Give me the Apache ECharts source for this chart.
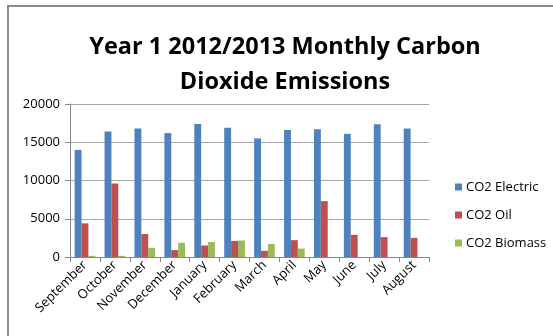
<!DOCTYPE html>
<html>
<head>
<meta charset="utf-8">
<script src="https://cdn.jsdelivr.net/npm/echarts@6/dist/echarts.min.js"></script>
<style>
  html, body { margin: 0; padding: 0; background: #fff; }
  #frame { position: absolute; left: 7px; top: 5px; width: 546px; height: 331px;
           border-top: 2px solid #8c8c8c; border-left: 2px solid #8c8c8c; box-sizing: border-box; }
  #chart { position: absolute; left: 0; top: 0; width: 553px; height: 336px; }
</style>
</head>
<body>
<div id="frame"></div>
<div id="chart"></div>
<script>
// Monthly CO2 emissions, September 2012 to August 2013
const months = ['September', 'October', 'November', 'December', 'January', 'February',
                'March', 'April', 'May', 'June', 'July', 'August'];
const co2Electric = [14000, 16400, 16800, 16200, 17400, 16900, 15500, 16600, 16700, 16100, 17350, 16800];
const co2Oil      = [4400, 9600, 3000, 900, 1500, 2100, 800, 2200, 7300, 2900, 2600, 2500];
const co2Biomass  = [150, 150, 1200, 1850, 1950, 2150, 1700, 1100, 0, 0, 0, 0];
const yTicks = [0, 5000, 10000, 15000, 20000];

const font = "'Open Sans', 'Liberation Sans', sans-serif";
const chart = echarts.init(document.getElementById('chart'), null, { renderer: 'canvas' });

const seriesDefs = [
  { name: 'CO2 Electric', data: co2Electric, color: '#4F81BD' },
  { name: 'CO2 Oil',      data: co2Oil,      color: '#C0504D' },
  { name: 'CO2 Biomass',  data: co2Biomass,  color: '#9BBB59' }
];

chart.setOption({
  animation: false,
  backgroundColor: 'transparent',
  title: {
    text: 'Year 1 2012/2013 Monthly Carbon\nDioxide Emissions',
    left: 280, top: 25, textAlign: 'center',
    textStyle: { fontFamily: font, fontWeight: 'bold', fontSize: 23.5, lineHeight: 35, color: '#000' }
  },
  legend: {
    orient: 'vertical', left: 450, top: 173, itemGap: 10,
    itemWidth: 7, itemHeight: 7, icon: 'rect',
    textStyle: { fontFamily: font, fontSize: 13, lineHeight: 18, color: '#000', padding: [0, 0, 0, -1] },
    data: seriesDefs.map(s => s.name)
  },
  grid: { left: 70, right: 124, top: 104, bottom: 79, containLabel: false },
  xAxis: {
    type: 'category', data: months,
    axisLine: { lineStyle: { color: '#868686', width: 1 } },
    axisTick: { show: true, length: 5, lineStyle: { color: '#868686' } },
    axisLabel: { rotate: 45, interval: 0, margin: 6, fontFamily: font, fontSize: 13, color: '#000' }
  },
  yAxis: {
    type: 'value', min: yTicks[0], max: yTicks[yTicks.length - 1], interval: 5000,
    axisLine: { show: true, lineStyle: { color: '#868686', width: 1 } },
    axisTick: { show: true, length: 5, lineStyle: { color: '#868686' } },
    axisLabel: { margin: 10, fontFamily: font, fontSize: 13, color: '#000',
                 formatter: v => String(v) },
    splitLine: { lineStyle: { color: '#a6a6a6', width: 1 } }
  },
  series: seriesDefs.map(s => ({
    name: s.name, type: 'bar', data: s.data,
    barGap: '0%', barCategoryGap: '31%',
    itemStyle: { color: s.color }
  }))
});
</script>
</body>
</html>
